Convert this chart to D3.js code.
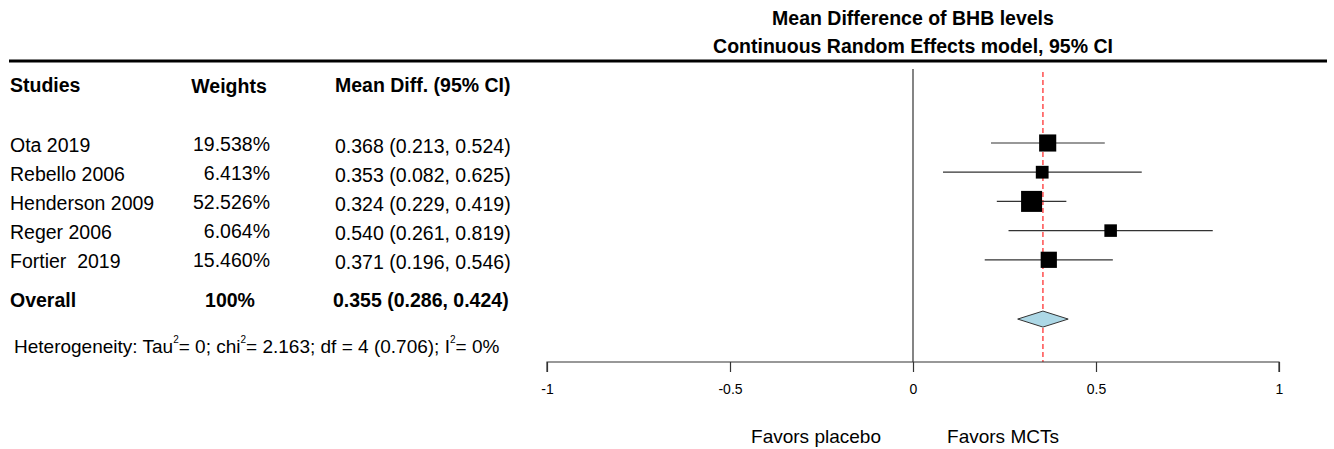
<!DOCTYPE html>
<html><head><meta charset="utf-8">
<script src="https://cdn.jsdelivr.net/npm/d3@7"></script>
<style>body{margin:0;background:#fff}svg{display:block;font-family:Arial,"Liberation Sans",sans-serif}text{white-space:pre}</style>
</head><body>
<svg id="c" width="1334" height="449"></svg>
<script>
const studies = ["Ota 2019","Rebello 2006","Henderson 2009","Reger 2006","Fortier  2019"];
const weights = [19.538, 6.413, 52.526, 6.064, 15.460];
const means = [0.368, 0.353, 0.324, 0.540, 0.371];
const lower = [0.213, 0.082, 0.229, 0.261, 0.196];
const upper = [0.524, 0.625, 0.419, 0.819, 0.546];
const overall = {mean:0.355, lower:0.286, upper:0.424};
const xTicks = [-1,-0.5,0,0.5,1];
const titles = ["Mean Difference of BHB levels","Continuous Random Effects model, 95% CI"];
const headers = ["Studies","Weights","Mean Diff. (95% CI)"];
const hetero = {tau2:"0", chi2:"2.163", df:"4 (0.706)", i2:"0%"};
const favors = ["Favors placebo","Favors MCTs"];

const svg = d3.select("#c");
const x = d3.scaleLinear().domain([-1,1]).range([547,1279]);
const y = d3.scaleLinear().domain([0,1]).range([143,172.2]);
const size = d3.scaleLog().domain([6,52.5]).range([12.5,21]);
const axisY = 362;
const fs = 19.5;

// titles
svg.selectAll("text.title").data(titles).join("text").attr("class","title")
  .attr("x",913).attr("y",(d,i)=>25+i*27.5).attr("text-anchor","middle")
  .attr("font-weight","bold").attr("font-size",19.5).attr("fill","#000").text(d=>d);
svg.append("line").attr("x1",9).attr("x2",1327).attr("y1",61).attr("y2",61)
  .attr("stroke","#000").attr("stroke-width",3);

// headers
const colX = [10,229,335];
const anchors = ["start","middle","start"];
svg.selectAll("text.hdr").data(headers).join("text").attr("class","hdr")
  .attr("x",(d,i)=>colX[i]).attr("y",(d,i)=>i==1?93:92).attr("text-anchor",(d,i)=>anchors[i])
  .attr("font-weight","bold").attr("font-size",fs).text(d=>d);

const fmt = d3.format(".3f");
const rows = svg.append("g");
studies.forEach((s,i)=>{
  const ty = y(i)+8.5;
  rows.append("text").attr("x",10).attr("y",ty).attr("font-size",fs).text(s);
  rows.append("text").attr("x",270).attr("y",ty-1).attr("text-anchor","end").attr("font-size",fs).text(fmt(weights[i])+"%");
  rows.append("text").attr("x",335).attr("y",ty+1).attr("font-size",fs).text(`${fmt(means[i])} (${fmt(lower[i])}, ${fmt(upper[i])})`);
});
// overall
const oy = y(5.35)+7.5;
rows.append("text").attr("x",10).attr("y",oy).attr("font-size",fs).attr("font-weight","bold").text("Overall");
rows.append("text").attr("x",230).attr("y",oy).attr("text-anchor","middle").attr("font-size",fs).attr("font-weight","bold").text("100%");
rows.append("text").attr("x",333).attr("y",oy).attr("font-size",fs).attr("font-weight","bold")
  .text(`${fmt(overall.mean)} (${fmt(overall.lower)}, ${fmt(overall.upper)})`);

// heterogeneity
const ht = svg.append("text").attr("x",14).attr("y",353).attr("font-size",19);
ht.append("tspan").text("Heterogeneity: Tau");
ht.append("tspan").attr("dy",-10).attr("font-size",10).text("2");
ht.append("tspan").attr("dy",10).text(`= ${hetero.tau2}; chi`);
ht.append("tspan").attr("dy",-10).attr("font-size",10).text("2");
ht.append("tspan").attr("dy",10).text(`= ${hetero.chi2}; df = ${hetero.df}; I`);
ht.append("tspan").attr("dy",-10).attr("font-size",10).text("2");
ht.append("tspan").attr("dy",10).text(`= ${hetero.i2}`);

// zero line
svg.append("line").attr("x1",x(0)).attr("x2",x(0)).attr("y1",69).attr("y2",axisY)
  .attr("stroke","#333").attr("stroke-width",1.2);
// overall dashed
svg.append("line").attr("x1",x(overall.mean)).attr("x2",x(overall.mean)).attr("y1",72).attr("y2",axisY)
  .attr("stroke","#f33").attr("stroke-width",1.3).attr("stroke-dasharray","5,3");

// CIs
const g = svg.append("g");
g.selectAll("line.ci").data(studies).join("line").attr("class","ci")
  .attr("x1",(d,i)=>x(lower[i])).attr("x2",(d,i)=>x(upper[i]))
  .attr("y1",(d,i)=>y(i)).attr("y2",(d,i)=>y(i)).attr("stroke","#333").attr("stroke-width",1.2);
g.selectAll("rect.pt").data(studies).join("rect").attr("class","pt")
  .attr("x",(d,i)=>x(means[i])-size(weights[i])/2).attr("y",(d,i)=>y(i)-size(weights[i])/2)
  .attr("width",(d,i)=>size(weights[i])).attr("height",(d,i)=>size(weights[i]))
  .attr("fill","#000");

// diamond
const dy = y(6.03);
svg.append("path").attr("d",`M${x(overall.lower)},${dy} L${x(overall.mean)},${dy-8} L${x(overall.upper)},${dy} L${x(overall.mean)},${dy+8} Z`)
  .attr("fill","#add8e6").attr("stroke","#333").attr("stroke-width",1);

// axis
const ax = svg.append("g").attr("transform",`translate(0,${axisY})`)
  .call(d3.axisBottom(x).tickValues(xTicks).tickSize(10).tickPadding(12).tickFormat(d=>String(d)));
ax.select(".domain").attr("stroke","#333").attr("stroke-width",1.2).attr("d",`M${x(-1)},10V0H${x(1)}V10`);
ax.selectAll(".tick line").attr("stroke","#333").attr("stroke-width",1.2);
ax.selectAll(".tick text").attr("font-size",14).attr("font-family","Arial, 'Liberation Sans', sans-serif").attr("fill","#000");

// favors
svg.append("text").attr("x",816).attr("y",443).attr("text-anchor","middle").attr("font-size",19).text(favors[0]);
svg.append("text").attr("x",1003).attr("y",443).attr("text-anchor","middle").attr("font-size",19).text(favors[1]);
</script>
</body></html>
